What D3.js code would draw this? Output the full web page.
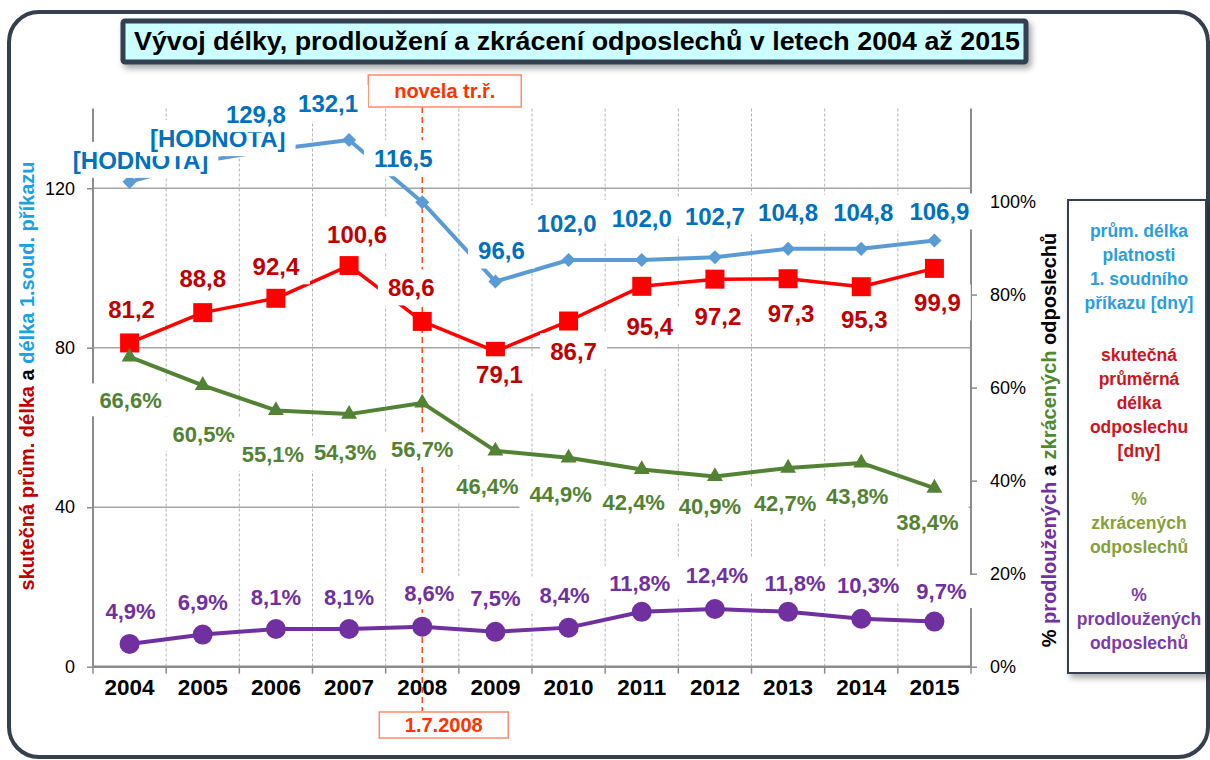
<!DOCTYPE html>
<html>
<head>
<meta charset="utf-8">
<script src="https://cdn.jsdelivr.net/npm/d3@7"></script>
<style>
  html, body { margin: 0; padding: 0; background: #fff; }
  svg text { font-family: "Liberation Sans", Arial, Helvetica, sans-serif; }
</style>
</head>
<body>
<svg id="chart" width="1210" height="760"></svg>
<script>
// data
const years = [2004, 2005, 2006, 2007, 2008, 2009, 2010, 2011, 2012, 2013, 2014, 2015];
const platnost = [121.6, 126.8, 129.8, 132.1, 116.5, 96.6, 102.0, 102.0, 102.7, 104.8, 104.8, 106.9];
const platnostLabels = ["[HODNOTA]", "[HODNOTA]", "129,8", "132,1", "116,5", "96,6", "102,0", "102,0", "102,7", "104,8", "104,8", "106,9"];
const delka = [81.2, 88.8, 92.4, 100.6, 86.6, 79.1, 86.7, 95.4, 97.2, 97.3, 95.3, 99.9];
const zkracene = [66.6, 60.5, 55.1, 54.3, 56.7, 46.4, 44.9, 42.4, 40.9, 42.7, 43.8, 38.4];
const prodlouzene = [4.9, 6.9, 8.1, 8.1, 8.6, 7.5, 8.4, 11.8, 12.4, 11.8, 10.3, 9.7];
const leftTicks = [0, 40, 80, 120];
const rightTicks = [0, 20, 40, 60, 80, 100];
const novelaYear = 2008;

// label nudges (text centre relative to the point), as placed in the original
const blueNudge = [[11,-22],[15,-23],[-20,-35],[-21,-37],[-19,-44],[6,-31],[-2,-37],[0,-42],[0,-41],[0,-36],[2,-36],[5,-29]];
const redNudge = [[2,-34],[0,-34],[0,-32],[8,-31],[-11,-34],[4,23],[5,30],[8,40],[3,37],[3,35],[3,33],[3,34]];
const greenNudge = [[1,43],[1,49],[-3,44],[-4,38],[0,46],[-8,35],[-8,36],[-8,33],[-5,30],[-3,35],[-4,33],[-7,34]];
const purpleNudge = [[1,-33],[0,-33],[0,-32],[0,-32],[7,-34],[0,-34],[-4,-33],[-2,-29],[2,-34],[7,-29],[7,-34],[7,-30]];

const svg = d3.select("#chart");
const plot = {left: 93, right: 971, top: 108.5, bottom: 666.7};

const x = d3.scaleBand().domain(years).range([plot.left, plot.right]).padding(0);
const yL = d3.scaleLinear().domain([0, 140]).range([plot.bottom, plot.top]);
const yR = d3.scaleLinear().domain([0, 120]).range([plot.bottom, plot.top]);
const cx = d => x(d) + x.bandwidth() / 2;

const comma = v => d3.format(".1f")(v).replace(".", ",");
const pct = v => comma(v) + "%";

// shadow filter
const defs = svg.append("defs");
const f = defs.append("filter").attr("id", "shadow").attr("x", "-10%").attr("y", "-10%").attr("width", "130%").attr("height", "140%");
f.append("feDropShadow").attr("dx", 3).attr("dy", 4).attr("stdDeviation", 3).attr("flood-color", "#000").attr("flood-opacity", 0.35);

// outer frame
svg.append("rect").attr("x", 9).attr("y", 12).attr("width", 1199).attr("height", 745).attr("rx", 30)
  .attr("fill", "#fff").attr("stroke", "#363f4e").attr("stroke-width", 4);

// title
svg.append("rect").attr("x", 123).attr("y", 21).attr("width", 903).attr("height", 41).attr("rx", 2)
  .attr("fill", "#ccffff").attr("stroke", "#333f50").attr("stroke-width", 5).attr("filter", "url(#shadow)");
svg.append("text").attr("x", 577).attr("y", 50).attr("text-anchor", "middle")
  .attr("font-size", 25).attr("font-weight", "bold").attr("fill", "#000")
  .attr("textLength", 886).attr("lengthAdjust", "spacingAndGlyphs")
  .text("Vývoj délky, prodloužení a zkrácení odposlechů v letech 2004 až 2015");

// grid
const boundaries = years.map(d => x(d)).slice(1);
svg.append("g").selectAll("line").data(boundaries).join("line")
  .attr("x1", d => d).attr("x2", d => d).attr("y1", plot.top).attr("y2", plot.bottom)
  .attr("stroke", "#b4b4b4").attr("stroke-width", 1).attr("stroke-dasharray", "3,2");
svg.append("g").selectAll("line").data(leftTicks.slice(1)).join("line")
  .attr("x1", plot.left).attr("x2", plot.right).attr("y1", d => yL(d)).attr("y2", d => yL(d))
  .attr("stroke", "#a6a6a6").attr("stroke-width", 1.5);

// axes
const axisColor = "#8c8c8c";
const gL = svg.append("g").attr("transform", `translate(${plot.left},0)`)
  .call(d3.axisLeft(yL).tickValues(leftTicks).tickSize(6).tickPadding(12));
const gR = svg.append("g").attr("transform", `translate(${plot.right},0)`)
  .call(d3.axisRight(yR).tickValues(rightTicks).tickSize(6).tickPadding(13).tickFormat(d => d + "%"));
[gL, gR].forEach(g => {
  g.select(".domain").remove();
  g.selectAll(".tick line").attr("stroke", axisColor).attr("stroke-width", 1.5);
  g.selectAll(".tick text").attr("font-size", 18).attr("fill", "#000");
  g.attr("font-family", null);
});
svg.append("line").attr("x1", plot.left).attr("x2", plot.left).attr("y1", plot.top).attr("y2", plot.bottom)
  .attr("stroke", axisColor).attr("stroke-width", 2);
svg.append("line").attr("x1", plot.right).attr("x2", plot.right).attr("y1", plot.top).attr("y2", plot.bottom)
  .attr("stroke", axisColor).attr("stroke-width", 2);

const gX = svg.append("g").attr("transform", `translate(0,${plot.bottom})`)
  .call(d3.axisBottom(x).tickSize(0).tickPadding(12));
gX.select(".domain").remove();
gX.attr("font-family", null);
gX.selectAll(".tick text").attr("font-size", 22.5).attr("font-weight", "bold").attr("fill", "#000");
svg.append("g").selectAll("line").data(years.map(d => x(d)).concat([plot.right])).join("line")
  .attr("x1", d => d).attr("x2", d => d).attr("y1", plot.bottom).attr("y2", plot.bottom + 7)
  .attr("stroke", axisColor).attr("stroke-width", 1.5);
svg.append("line").attr("x1", plot.left).attr("x2", plot.right).attr("y1", plot.bottom).attr("y2", plot.bottom)
  .attr("stroke", axisColor).attr("stroke-width", 2.5);

// axis titles
const lt = svg.append("text").attr("transform", "translate(34,376) rotate(-90)")
  .attr("text-anchor", "middle").attr("font-size", 20).attr("font-weight", "bold");
lt.append("tspan").attr("fill", "#c00000").text("skutečná prům. délka ");
lt.append("tspan").attr("fill", "#000").text("a ");
lt.append("tspan").attr("fill", "#1ba1e2").text("délka 1.soud. příkazu");

const rt = svg.append("text").attr("transform", "translate(1056,440) rotate(-90)")
  .attr("text-anchor", "middle").attr("font-size", 20).attr("font-weight", "bold");
rt.append("tspan").attr("fill", "#000").text("% ");
rt.append("tspan").attr("fill", "#7030a0").text("prodloužených");
rt.append("tspan").attr("fill", "#000").text(" a ");
rt.append("tspan").attr("fill", "#4e8a2e").text("zkrácených");
rt.append("tspan").attr("fill", "#000").text(" odposlechů");

// novela marker
const nx = cx(novelaYear);
svg.append("line").attr("x1", nx).attr("x2", nx).attr("y1", 107).attr("y2", 711)
  .attr("stroke", "#ff4a1c").attr("stroke-width", 1.5).attr("stroke-dasharray", "6,4");
[[nx - 54, 75, 153, 32, "novela tr.ř.", 91], [nx - 43, 712, 129, 26, "1.7.2008", 725]].forEach(b => {
  svg.append("rect").attr("x", b[0]).attr("y", b[1]).attr("width", b[2]).attr("height", b[3])
    .attr("fill", "#fff").attr("stroke", "#ff8a6a").attr("stroke-width", 1.5);
  svg.append("text").attr("x", b[0] + b[2] / 2).attr("y", b[5]).attr("dy", "0.36em")
    .attr("text-anchor", "middle").attr("font-size", 20).attr("font-weight", "bold")
    .attr("fill", "#ff3300").text(b[4]);
});

// series
const series = [
  {values: platnost, scale: yL, line: "#5b9bd5", width: 4, mark: "diamond", markColor: "#5b9bd5",
   labels: platnostLabels, labelColor: "#0070c0", fs: 24, nudge: blueNudge},
  {values: delka, scale: yL, line: "#ff0000", width: 3.5, mark: "square", markColor: "#ff0000",
   labels: delka.map(comma), labelColor: "#c00000", fs: 24, nudge: redNudge},
  {values: zkracene, scale: yR, line: "#548235", width: 4, mark: "triangle", markColor: "#548235",
   labels: zkracene.map(pct), labelColor: "#548235", fs: 22, nudge: greenNudge},
  {values: prodlouzene, scale: yR, line: "#7030a0", width: 4, mark: "circle", markColor: "#7030a0",
   labels: prodlouzene.map(pct), labelColor: "#7030a0", fs: 22, nudge: purpleNudge}
];

const symbols = {
  diamond: d3.symbol(d3.symbolSquare, 100),
  square: d3.symbol(d3.symbolSquare, 361),
  triangle: d3.symbol(d3.symbolTriangle, 110)
};

series.forEach(s => {
  const line = d3.line().x((d, i) => cx(years[i])).y(d => s.scale(d));
  svg.append("path").datum(s.values).attr("d", line)
    .attr("fill", "none").attr("stroke", s.line).attr("stroke-width", s.width).attr("stroke-linejoin", "round");
  const g = svg.append("g");
  s.values.forEach((v, i) => {
    const px = cx(years[i]), py = s.scale(v);
    if (s.mark === "circle") {
      g.append("circle").attr("cx", px).attr("cy", py).attr("r", 10).attr("fill", s.markColor);
    } else {
      g.append("path").attr("d", symbols[s.mark]())
        .attr("transform", `translate(${px},${py})` + (s.mark === "diamond" ? " rotate(45)" : ""))
        .attr("fill", s.markColor);
    }
  });
});

// data labels with white boxes, drawn on top
series.forEach(s => {
  s.values.forEach((v, i) => {
    const px = cx(years[i]) + s.nudge[i][0], py = s.scale(v) + s.nudge[i][1];
    const g = svg.append("g");
    const rect = g.append("rect").attr("fill", "#fff");
    const t = g.append("text").attr("x", px).attr("y", py).attr("dy", "0.36em")
      .attr("text-anchor", "middle").attr("font-size", s.fs).attr("font-weight", "bold")
      .attr("fill", s.labelColor).text(s.labels[i]);
    const bb = t.node().getBBox();
    rect.attr("x", bb.x - 10).attr("width", bb.width + 20)
      .attr("y", py - 0.75 * s.fs).attr("height", 1.5 * s.fs);
  });
});

// legend
const legendGroups = [
  {color: "#2b9de0", lines: ["prům. délka", "platnosti", "1. soudního", "příkazu [dny]"]},
  {color: "#d0141c", lines: ["skutečná", "průměrná", "délka", "odposlechu", "[dny]"]},
  {color: "#86a03e", lines: ["%", "zkrácených", "odposlechů"]},
  {color: "#7d3bab", lines: ["%", "prodloužených", "odposlechů"]}
];
svg.append("rect").attr("x", 1068).attr("y", 200).attr("width", 138).attr("height", 473)
  .attr("fill", "#fff").attr("stroke", "#363f4e").attr("stroke-width", 2).attr("filter", "url(#shadow)");
let ly = 231;
legendGroups.forEach((grp, gi) => {
  if (gi > 0) ly += 24 + (gi === 1 ? 4 : 0);
  grp.lines.forEach(l => {
    svg.append("text").attr("x", 1139).attr("y", ly).attr("dy", "0.36em").attr("text-anchor", "middle")
      .attr("font-size", 17.5).attr("font-weight", "bold").attr("fill", grp.color).text(l);
    ly += 24;
  });
});
</script>
</body>
</html>
